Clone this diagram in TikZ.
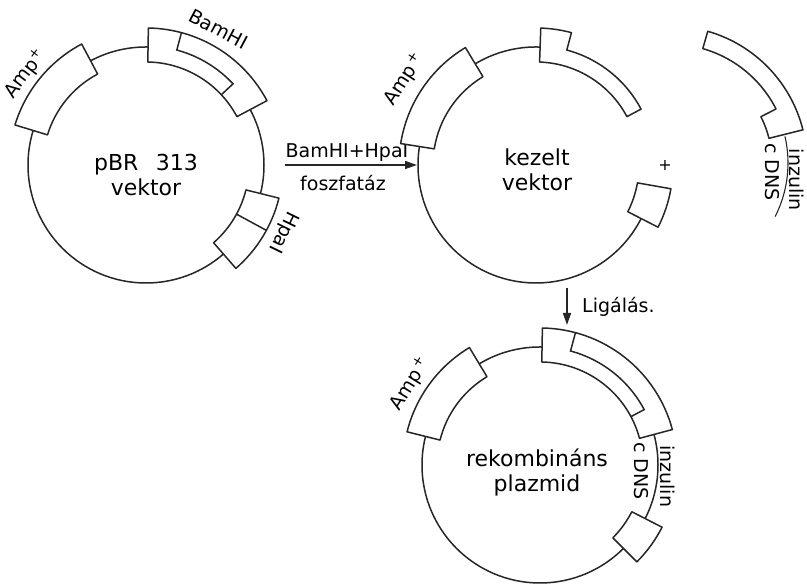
\documentclass[tikz,border=0pt]{standalone}
\usepackage{fontspec}
\setmainfont{DejaVu Sans}
\usetikzlibrary{arrows.meta}

\tikzset{
  dna/.style={line width=1.5pt, draw=black!85},
  gene/.style={dna, fill=white, line join=round},
  lbl/.style={font=\fontsize{19}{21}\selectfont, inner sep=0pt},
  plname/.style={font=\fontsize{22}{25}\selectfont, align=center, inner sep=0pt},
  arr/.style={dna, -{Triangle[length=12pt,width=8pt]}},
}

% box sitting on the ring, from angle #1 to angle #2
\newcommand{\genebox}[2]{(#1:103pt) -- (#1:137pt) arc[start angle=#1, end angle=#2, radius=137pt] -- (#2:103pt) arc[start angle=#2, end angle=#1, radius=103pt] -- cycle}

\begin{document}
\begin{tikzpicture}[x=1pt,y=1pt]
  \useasboundingbox (0,0) rectangle (807,585);

  \coordinate (c1) at (146,420);
  \coordinate (c2) at (536,420);
  \coordinate (c3) at (540,120);
  \coordinate (frag) at (670,422);

  % pBR 313 vektor
  \begin{scope}[shift={(c1)}]
    \draw[dna] (0,0) circle[radius=118pt];
    \draw[gene] \genebox{118}{163};
    \draw[gene] \genebox{28}{89};
    \draw[dna] (75:137pt) -- (75:119pt) arc[start angle=75, end angle=43, radius=119pt] -- (43:103pt);
    \draw[gene] \genebox{-49}{-14};
    \draw[dna] (-28.5:103pt) -- (-28.5:137pt);
    \node[lbl, rotate=53] (amp1) at (143:151pt) {Amp\textsuperscript{+}};
    \node[lbl, rotate=-28] (bam1) at (62:154pt) {BamHI};
    \node[lbl, rotate=-116] (hpa1) at (-26:153pt) {HpaI};
    \node[plname] (p1) at (0,-10) {pBR\hspace{0.8em}313\\vektor};
  \end{scope}

  % restriction + phosphatase step
  \coordinate (s1) at (285,420);
  \coordinate (s2) at (417,420);
  \draw[arr] (s1) -- (s2);
  \node[lbl] (enz) at (347,432) {BamHI+HpaI};
  \node[lbl] (fos) at (343,402) {foszfatáz};

  % kezelt vektor (opened)
  \begin{scope}[shift={(c2)}]
    \draw[dna] (88:118pt) arc[start angle=88, end angle=333, radius=118pt];
    \draw[gene] \genebox{121}{171};
    \draw[gene] (88:103pt) -- (88:137pt) arc[start angle=88, end angle=75, radius=137pt]
      -- (75:119pt) arc[start angle=75, end angle=28, radius=119pt]
      -- (28:103pt) arc[start angle=28, end angle=88, radius=103pt] -- cycle;
    \draw[gene] \genebox{-27}{-10};
    \node[lbl, rotate=57] (amp2) at (147:157pt) {Amp\textsuperscript{\,+}};
    \node[lbl, font=\fontsize{16}{18}\selectfont] (end2) at (0:129pt) {+};
    \node[plname] (p2) at (1,-5) {kezelt\\vektor};
  \end{scope}

  % inzulin cDNS fragment
  \begin{scope}[shift={(frag)}]
    \draw[gene] (74:119pt) -- (74:137pt) arc[start angle=74, end angle=14, radius=137pt]
      -- (14:102pt) arc[start angle=14, end angle=27, radius=102pt]
      -- (27:119pt) arc[start angle=27, end angle=74, radius=119pt] -- cycle;
    \draw[dna, line width=1.1pt] (13:118pt) arc[start angle=13, end angle=-27, radius=118pt];
    \node[lbl, rotate=-90] (cdns2) at (-5:103pt) {c DNS};
    \node[lbl, rotate=-90] (inz2) at (-7.5:128pt) {inzulin};
  \end{scope}

  % ligation step
  \coordinate (l1) at (567,297);
  \coordinate (l2) at (567,260);
  \draw[arr] (l1) -- (l2);
  \node[lbl, anchor=west] (lig) at (582,278) {Ligálás.};

  % rekombináns plazmid
  \begin{scope}[shift={(c3)}]
    \draw[dna] (0,0) circle[radius=118pt];
    \draw[gene] \genebox{121}{166};
    \draw[gene] \genebox{15}{89};
    \draw[dna] (75:137pt) -- (75:118pt) arc[start angle=75, end angle=28, radius=118pt] -- (28:103pt);
    \draw[gene] \genebox{-45}{-27};
    \node[lbl, rotate=58] (amp3) at (148:153pt) {Amp\textsuperscript{\,+}};
    \node[lbl, rotate=-90] (cdns3) at (-3.5:102pt) {c DNS};
    \node[lbl, rotate=-90] (inz3) at (-5:128pt) {inzulin};
    \node[plname] (p3) at (-3,-7) {rekombináns\\plazmid};
  \end{scope}
\end{tikzpicture}
\end{document}
